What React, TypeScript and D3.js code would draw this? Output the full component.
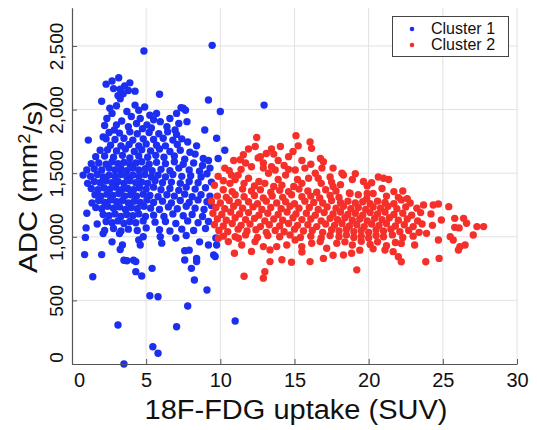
import React, { useEffect, useRef } from 'react';
import * as d3 from 'd3';

const xTicks = [0, 5, 10, 15, 20, 25, 30];
const yTicks = [0, 500, 1000, 1500, 2000, 2500];
const seriesNames = ['Cluster 1', 'Cluster 2'];
const seriesColors = ['#1c2ef0', '#f5302a'];

// [SUV, ADC]
const cluster1 = [
  [4.85, 2460], [9.45, 2505], [12.95, 2035], [5.9, 2120], [9.2, 2075], [10.0, 1985], [11.0, 338], [3.5, 0],
  [3.1, 307], [7.05, 293], [5.45, 136], [5.8, 84], [7.8, 456], [5.25, 537], [5.8, 529], [9.1, 582],
  [8.25, 660], [1.4, 686], [4.7, 692], [4.3, 726], [5.4, 752], [8.05, 752], [0.85, 860], [2.0, 860],
  [3.15, 2250], [2.7, 2225], [2.3, 2200], [3.9, 2210], [3.55, 2185], [3.25, 2160], [2.8, 2165], [4.25, 2145],
  [3.8, 2150], [3.45, 2125], [3.1, 2110], [3.25, 2085], [2.0, 2065],
  [2.55, 2010], [2.7, 1970], [4.25, 2035], [4.5, 1995], [4.9, 2020], [5.25, 1955], [5.7, 1970], [7.05, 1970],
  [7.5, 2010], [7.65, 1995], [7.35, 2015], [3.7, 1985], [3.0, 2030],
  [6.6, 1930], [7.75, 1905], [5.95, 1905], [6.4, 1865], [4.6, 1930], [4.0, 1945], [2.35, 1930], [3.0, 1880],
  [3.8, 1865], [4.35, 1890], [5.05, 1880], [8.95, 1840], [6.95, 1840], [2.2, 1875], [3.35, 1910], [5.5, 1920],
  [7.2, 1890], [4.75, 1850], [2.85, 1840], [5.35, 1855],
  [1.1, 1760], [2.1, 1785], [2.5, 1820], [3.2, 1815], [3.9, 1825], [4.4, 1810], [5.2, 1820], [5.85, 1810],
  [6.45, 1825], [7.05, 1805], [2.3, 1770], [2.9, 1765], [3.5, 1775], [4.1, 1760], [4.8, 1770], [5.5, 1765],
  [6.15, 1775], [6.8, 1760], [7.4, 1770], [9.75, 1775], [2.6, 1720], [3.3, 1715], [3.85, 1725], [4.5, 1715],
  [5.0, 1730], [5.7, 1720], [6.3, 1715], [7.1, 1725], [8.4, 1715], [10.3, 1680], [7.8, 1745],
  [1.9, 1680], [2.4, 1685], [3.0, 1675], [3.6, 1690], [4.2, 1670], [4.7, 1685], [5.3, 1675], [5.9, 1690],
  [6.6, 1670], [7.3, 1680], [7.95, 1665], [1.6, 1630], [2.2, 1635], [2.8, 1625], [3.4, 1640], [3.9, 1620],
  [4.5, 1635], [5.1, 1625], [5.65, 1640], [6.2, 1625], [6.9, 1635], [8.85, 1615], [9.85, 1615], [9.2, 1600],
  [7.6, 1610], [8.3, 1650],
  [1.3, 1575], [1.8, 1580], [2.3, 1570], [2.7, 1590], [3.1, 1575], [3.5, 1585], [3.9, 1570], [4.3, 1580],
  [4.7, 1590], [5.2, 1570], [5.7, 1585], [6.3, 1575], [6.9, 1590], [7.5, 1570], [8.2, 1580], [8.8, 1560],
  [1.0, 1525], [1.5, 1535], [2.0, 1525], [2.5, 1540], [2.9, 1525], [3.3, 1535], [3.7, 1520], [4.1, 1540],
  [4.5, 1525], [4.95, 1535], [5.4, 1520], [6.0, 1530], [6.6, 1520], [7.2, 1540], [7.9, 1525], [8.6, 1515],
  [9.3, 1540],
  [0.75, 1485], [1.25, 1475], [1.7, 1490], [2.1, 1470], [2.5, 1485], [2.9, 1475], [3.3, 1490], [3.7, 1470],
  [4.1, 1485], [4.5, 1475], [4.9, 1490], [5.35, 1470], [5.8, 1485], [6.3, 1470], [6.8, 1490], [7.4, 1475],
  [8.0, 1480], [8.7, 1470], [9.1, 1495],
  [1.05, 1420], [1.5, 1435], [1.9, 1425], [2.3, 1440], [2.7, 1425], [3.1, 1435], [3.5, 1420], [3.9, 1440],
  [4.3, 1425], [4.7, 1430], [5.1, 1420], [5.6, 1440], [6.1, 1425], [6.7, 1430], [7.3, 1420], [7.9, 1435],
  [8.5, 1425], [9.4, 1430],
  [1.3, 1380], [1.75, 1370], [2.15, 1385], [2.55, 1375], [2.95, 1390], [3.35, 1370], [3.75, 1380], [4.15, 1370],
  [4.55, 1385], [5.0, 1375], [5.5, 1390], [6.0, 1370], [6.6, 1380], [7.2, 1365], [7.7, 1390], [8.3, 1375],
  [9.0, 1385],
  [1.55, 1330], [1.95, 1320], [2.35, 1335], [2.75, 1325], [3.15, 1340], [3.55, 1320], [3.95, 1330], [4.35, 1320],
  [4.8, 1335], [5.25, 1325], [5.8, 1315], [6.4, 1330], [6.9, 1320], [7.6, 1335], [8.1, 1315], [8.7, 1330],
  [9.3, 1320],
  [1.35, 1265], [1.8, 1285], [2.2, 1270], [2.6, 1290], [3.0, 1275], [3.4, 1285], [3.8, 1265], [4.2, 1280],
  [4.6, 1270], [5.05, 1290], [5.5, 1270], [6.1, 1280], [6.7, 1265], [7.3, 1285], [7.9, 1270], [8.5, 1290],
  [9.1, 1275],
  [1.0, 1185], [1.6, 1230], [2.0, 1220], [2.4, 1240], [2.8, 1225], [3.2, 1235], [3.6, 1215], [4.0, 1230],
  [4.4, 1220], [4.85, 1240], [5.3, 1225], [5.9, 1215], [6.5, 1235], [7.1, 1220], [7.7, 1240], [8.3, 1225],
  [8.9, 1215], [9.4, 1245],
  [1.7, 1100], [2.1, 1175], [2.5, 1165], [2.9, 1180], [3.3, 1160], [3.7, 1175], [4.1, 1165], [4.5, 1180],
  [4.95, 1160], [5.5, 1170], [6.2, 1160], [6.8, 1180], [7.5, 1165], [8.1, 1175], [8.8, 1160],
  [2.3, 1120], [2.7, 1110], [3.1, 1125], [3.5, 1105], [3.9, 1120], [4.3, 1110], [4.8, 1125], [5.6, 1115],
  [6.3, 1120], [7.0, 1105], [7.8, 1125], [8.5, 1110], [9.2, 1120],
  [0.95, 1070], [2.2, 1050], [2.8, 1065], [3.3, 1045], [3.8, 1060], [4.4, 1050], [5.0, 1070], [5.9, 1055],
  [6.6, 1045], [7.4, 1060], [8.2, 1050], [9.0, 1065],
  [0.9, 995], [2.1, 1025], [3.2, 1025], [4.8, 1000], [4.5, 975], [6.05, 950], [7.0, 990], [7.7, 1010],
  [8.6, 960], [9.2, 935], [9.75, 935], [9.7, 990],
  [2.7, 960], [3.4, 935], [4.6, 935], [3.5, 815], [4.15, 815], [3.7, 812], [4.3, 805], [8.4, 805],
  [7.6, 817], [7.6, 891], [7.9, 895], [8.4, 830], [9.55, 857], [9.65, 845], [3.25, 900], [5.95, 1000],
];

const cluster2 = [
  [12.45, 1780], [15.1, 1795], [16.05, 1745], [16.15, 1695], [15.25, 1715], [14.05, 1710], [13.45, 1690], [13.1, 1655],
  [12.35, 1710], [11.9, 1690], [12.55, 1620], [11.55, 1645], [11.35, 1605], [11.7, 1580], [16.75, 1615], [16.95, 1590],
  [12.7, 1630], [14.6, 1630], [13.9, 1600],
  [10.9, 1600], [12.9, 1580], [14.3, 1560], [15.5, 1600], [13.6, 1650], [14.9, 1670], [10.6, 1520], [11.4, 1530],
  [12.9, 1540], [14.6, 1530], [16.1, 1570], [13.9, 1450], [15.2, 1450], [16.6, 1460], [10.2, 1440], [11.6, 1420],
  [18.9, 1450], [19.9, 1400], [17.6, 1395], [22.3, 1360],
  [12.1, 1550], [13.45, 1550], [13.7, 1525], [15.05, 1525], [15.7, 1540], [16.85, 1540], [17.6, 1540], [18.2, 1500],
  [18.3, 1485], [19.1, 1495], [14.4, 1485], [11.2, 1485], [10.75, 1485], [10.3, 1540], [13.25, 1500], [16.4, 1500],
  [20.65, 1470], [21.0, 1460], [21.35, 1450], [11.9, 1460], [11.0, 1450], [12.6, 1435], [17.4, 1470], [9.85, 1475],
  [15.95, 1460], [15.5, 1420], [14.95, 1395], [14.15, 1405], [13.6, 1395], [13.0, 1420], [10.65, 1420], [17.5, 1430],
  [18.1, 1410], [19.65, 1435], [20.2, 1425], [16.8, 1420], [20.9, 1380], [12.3, 1400], [9.6, 1405],
  [10.2, 1370], [10.8, 1355], [11.5, 1375], [12.1, 1360], [12.7, 1370], [13.4, 1350], [14.0, 1365], [14.6, 1355],
  [15.3, 1375], [15.9, 1360], [16.5, 1350], [17.1, 1370], [17.8, 1360], [18.7, 1345], [19.3, 1330], [19.9, 1340],
  [22.2, 1290], [22.6, 1300], [21.7, 1355],
  [9.8, 1320], [10.4, 1310], [11.0, 1330], [11.6, 1315], [12.3, 1325], [12.9, 1305], [13.5, 1320], [14.2, 1310],
  [14.8, 1330], [15.5, 1315], [16.1, 1320], [16.7, 1305], [17.4, 1325], [18.0, 1310], [18.75, 1340], [20.3, 1340],
  [19.87, 1300], [21.2, 1320], [22.0, 1310],
  [9.4, 1280], [10.0, 1265], [10.6, 1285], [11.2, 1270], [11.9, 1275], [12.5, 1260], [13.1, 1280], [13.8, 1265],
  [14.4, 1275], [15.0, 1260], [15.7, 1280], [16.3, 1270], [16.9, 1265], [17.5, 1285], [18.1, 1270], [18.6, 1280],
  [19.1, 1265], [19.6, 1275], [20.1, 1260], [20.6, 1280], [21.1, 1270], [21.7, 1260], [22.8, 1265],
  [9.7, 1230], [10.3, 1220], [10.9, 1240], [11.5, 1225], [12.2, 1235], [12.8, 1215], [13.4, 1230], [14.1, 1220],
  [14.7, 1240], [15.3, 1225], [16.0, 1230], [16.6, 1215], [17.2, 1235], [17.8, 1225], [18.3, 1240], [18.8, 1220],
  [19.3, 1230], [19.8, 1215], [20.3, 1235], [20.8, 1225], [21.3, 1240], [21.9, 1220], [22.5, 1235], [23.25, 1225],
  [23.7, 1250], [24.35, 1250], [24.7, 1258], [25.4, 1237],
  [9.5, 1185], [10.1, 1175], [10.7, 1195], [11.3, 1180], [11.9, 1190], [12.6, 1170], [13.2, 1185], [13.9, 1175],
  [14.5, 1195], [15.1, 1180], [15.8, 1185], [16.4, 1170], [17.0, 1190], [17.6, 1180], [18.1, 1195], [18.6, 1175],
  [19.1, 1185], [19.6, 1170], [20.1, 1190], [20.6, 1180], [21.1, 1195], [21.7, 1175], [22.3, 1185], [22.9, 1170],
  [23.5, 1190], [24.2, 1180],
  [9.8, 1140], [10.4, 1130], [11.0, 1150], [11.7, 1135], [12.3, 1145], [13.0, 1125], [13.6, 1140], [14.2, 1130],
  [14.9, 1150], [15.5, 1135], [16.1, 1140], [16.8, 1125], [17.4, 1145], [17.9, 1135], [18.4, 1150], [18.9, 1130],
  [19.4, 1140], [19.9, 1125], [20.4, 1145], [20.9, 1135], [21.4, 1150], [22.0, 1130], [22.6, 1140], [23.3, 1125],
  [24.9, 1132], [25.8, 1145], [26.4, 1145],
  [9.6, 1095], [10.2, 1085], [10.8, 1105], [11.4, 1090], [12.0, 1100], [12.7, 1080], [13.3, 1095], [14.0, 1085],
  [14.6, 1105], [15.2, 1090], [15.9, 1095], [16.5, 1080], [17.1, 1100], [17.7, 1090], [18.2, 1105], [18.7, 1085],
  [19.2, 1095], [19.7, 1080], [20.2, 1100], [20.7, 1090], [21.2, 1105], [21.8, 1085], [22.4, 1095], [23.0, 1080],
  [23.6, 1100], [24.3, 1090], [26.6, 1106], [27.3, 1080], [27.75, 1080],
  [9.9, 1050], [10.5, 1040], [11.2, 1060], [11.8, 1045], [12.4, 1055], [13.1, 1035], [13.7, 1050], [14.3, 1040],
  [15.0, 1060], [15.6, 1045], [16.2, 1050], [16.9, 1035], [17.5, 1055], [18.0, 1045], [18.5, 1060], [19.0, 1040],
  [19.5, 1050], [20.0, 1035], [20.5, 1055], [21.0, 1045], [21.5, 1060], [22.1, 1040], [22.7, 1050], [23.4, 1035],
  [25.8, 1074], [26.1, 1070],
  [10.2, 1005], [11.0, 1000], [11.7, 1015], [12.5, 995], [13.2, 1010], [14.0, 1000], [14.7, 1015], [15.4, 995],
  [16.1, 1005], [16.8, 990], [17.4, 1010], [18.0, 1000], [18.5, 1015], [19.0, 995], [19.5, 1005], [20.0, 990],
  [20.5, 1010], [21.0, 1000], [21.6, 1015], [22.3, 995], [23.0, 1005], [23.9, 1027], [25.5, 1001], [27.05, 1014],
  [9.87, 988], [10.54, 962], [11.22, 988], [11.44, 936], [12.34, 962], [12.9, 923], [13.8, 923], [14.48, 936],
  [15.04, 975], [15.49, 923], [16.16, 949], [16.73, 962], [17.17, 910], [17.85, 949], [18.4, 960], [18.9, 935],
  [19.5, 965], [20.1, 940], [20.6, 960], [21.2, 930], [21.8, 955], [22.2, 948], [23.1, 935], [24.7, 975],
  [25.7, 975], [26.15, 922], [26.5, 935], [26.05, 896],
  [13.35, 897], [10.95, 870], [12.1, 885], [13.35, 805], [14.15, 820], [14.8, 800], [16.05, 805], [16.95, 830],
  [17.6, 855], [13.0, 725], [12.9, 675], [11.6, 690], [18.3, 857], [18.85, 870], [19.2, 740], [19.4, 895],
  [21.1, 896], [21.65, 883], [22.0, 843], [22.2, 804], [23.85, 804], [24.75, 830], [20.3, 905], [15.5, 880],
];

const W = 537;
const H = 430;
const FONT = '"Liberation Sans", Arial, Helvetica, sans-serif';

const App = () => {
  const svgRef = useRef<SVGSVGElement>(null);

  useEffect(() => {
    const svg = d3.select(svgRef.current);
    svg.selectAll('*').remove();

    const x = d3.scaleLinear().domain([0, 30]).range([72, 517]);
    const y = d3.scaleLinear().domain([0, 2800]).range([364, 7.8]);

    // grid
    const grid = svg.append('g').attr('stroke', '#e2e2e2').attr('stroke-width', 1);
    xTicks.filter(t => t > 0).forEach(t => {
      grid.append('line')
        .attr('x1', x(t)).attr('x2', x(t))
        .attr('y1', y(0)).attr('y2', y(2800));
    });
    yTicks.filter(t => t > 0).forEach(t => {
      grid.append('line')
        .attr('x1', x(0)).attr('x2', x(30))
        .attr('y1', y(t)).attr('y2', y(t));
    });

    // points
    [cluster1, cluster2].forEach((pts, i) => {
      svg.append('g')
        .selectAll('circle')
        .data(pts)
        .join('circle')
        .attr('cx', d => x(d[0]))
        .attr('cy', d => y(d[1]))
        .attr('r', 3.7)
        .attr('fill', seriesColors[i]);
    });

    // axes
    const xAxis = svg.append('g')
      .attr('transform', `translate(0,${y(0)})`)
      .call(d3.axisBottom(x).tickValues(xTicks).tickSize(-5).tickSizeOuter(0).tickPadding(9));
    xAxis.selectAll('text')
      .style('font-family', FONT).style('font-size', '20px').attr('fill', '#111')
      .attr('dx', (d: any) => (d === 0 ? 7 : 0));

    const yAxis = svg.append('g')
      .attr('transform', `translate(${x(0)},0)`)
      .call(d3.axisLeft(y).tickValues(yTicks).tickSize(-5).tickSizeOuter(0).tickFormat(d3.format(',')));
    yAxis.selectAll('text')
      .style('font-family', FONT).style('font-size', '19px').attr('fill', '#111')
      .attr('x', 0).attr('dy', 0)
      .attr('text-anchor', 'middle')
      .attr('transform', (d: any) => `translate(-9,${d === 0 ? -7 : 0}) rotate(-90)`);

    [xAxis, yAxis].forEach(a => {
      a.select('.domain').attr('stroke', '#555').attr('stroke-width', 1.2);
      a.selectAll('.tick line').attr('stroke', '#555');
    });

    // axis titles
    svg.append('text')
      .attr('x', 296).attr('y', 419)
      .attr('text-anchor', 'middle')
      .attr('textLength', 303).attr('lengthAdjust', 'spacingAndGlyphs')
      .style('font-family', FONT).style('font-size', '27px').attr('fill', '#111')
      .text('18F-FDG uptake (SUV)');

    const yt = svg.append('text')
      .attr('transform', 'translate(37,187) rotate(-90)')
      .attr('text-anchor', 'middle')
      .attr('textLength', 172).attr('lengthAdjust', 'spacingAndGlyphs')
      .style('font-family', FONT).style('font-size', '26px').attr('fill', '#111');
    yt.append('tspan').text('ADC (mm');
    yt.append('tspan').attr('dy', '-0.45em').style('font-size', '16px').text('2');
    yt.append('tspan').attr('dy', '0.45em').text('/s)');

    // legend
    const lg = svg.append('g');
    lg.append('rect')
      .attr('x', 392.5).attr('y', 16.5).attr('width', 116).attr('height', 40)
      .attr('fill', '#fff').attr('stroke', '#444').attr('stroke-width', 1);
    seriesNames.forEach((name, i) => {
      lg.append('circle')
        .attr('cx', 412).attr('cy', 29 + i * 16).attr('r', 2.3)
        .attr('fill', seriesColors[i]);
      lg.append('text')
        .attr('x', 431).attr('y', 34 + i * 16)
        .style('font-family', FONT).style('font-size', '16px').attr('fill', '#111')
        .text(name);
    });
  }, []);

  return (
    <svg
      ref={svgRef}
      width={W}
      height={H}
      style={{ position: 'absolute', left: 0, top: 0, background: '#fff' }}
    />
  );
};

export default App;
